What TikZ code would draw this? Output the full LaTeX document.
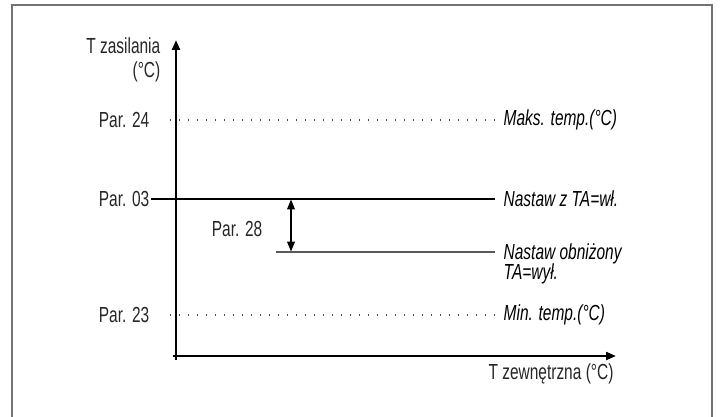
\documentclass[tikz,border=0pt]{standalone}
\usepackage{fontspec}
\setmainfont{Liberation Sans}[FakeStretch=0.71]
\usetikzlibrary{positioning, arrows.meta}

\begin{document}
\begin{tikzpicture}[x=0.025cm, y=-0.025cm, >={Triangle[length=7pt,width=5.5pt]},
    font=\fontsize{15.5}{14.5}\selectfont]
    \tikzset{
        axis/.style={line width=1.7pt},
        level/.style={line width=0.8pt},
        dotline/.style={line width=0.8pt, black!70, dash pattern=on 0.8pt off 5.6pt},
        leftlab/.style={anchor=east, inner sep=1pt, text=black!85},
        rightlab/.style={anchor=west, inner sep=1pt, font=\fontsize{15.5}{14.5}\selectfont\itshape}
    }
    \useasboundingbox (0,0) rectangle (720,416);
    % frame, its bottom edge lies below the page
    \draw[black!55, line width=1.4pt] (12,440) |- (712,5) -- (712,440);
    % axes
    \coordinate (O) at (176,356);
    \coordinate (ytip) at (176,40);
    \coordinate (xtip) at (616,356);
    \draw[axis, ->] (176,360) -- (ytip);
    \draw[axis, ->] (173,356) -- (xtip);
    \node[anchor=east, align=right, inner sep=1pt, text=black!85] (ylabel) at (162,60) {T zasilania\\[3pt](°C)};
    \node[inner sep=1pt, text=black!85] (xlabel) at (551,374) {T zewnętrzna (°C)};
    % left labels
    \node[leftlab] (par24) at (151,120) {Par. 24};
    \node[leftlab] (par03) at (151,199) {Par. 03};
    \node[leftlab] (par23) at (151,315) {Par. 23};
    % right labels
    \node[rightlab] (maks) at (502,120) {Maks. temp.(°C)};
    \node[rightlab] (nastaw) at (502,199) {Nastaw z TA=wł.};
    \node[rightlab, anchor=north west, align=left] (obnizony) at (502,242) {Nastaw obniżony\\TA=wył.};
    \node[rightlab] (mintemp) at (502,315) {Min. temp.(°C)};
    % levels
    \coordinate (d24) at (170,120);
    \coordinate (d23) at (170,315);
    \coordinate (low) at (276,252);
    \draw[dotline] (d24) -- ([xshift=-5pt]maks.west);
    \draw[dotline] (d23) -- ([xshift=-5pt]mintemp.west);
    \draw[level] (par03.east) -- ([xshift=-5pt]nastaw.west);
    \draw[level, black!65] (low) -- ([xshift=-5pt]obnizony.north west |- low);
    % offset Par. 28
    \coordinate (hi) at (291,199.5);
    \coordinate (lo) at (291,251.5);
    \draw[line width=0.9pt, <->] (hi) -- (lo);
    \node[leftlab] (par28) at (264,229) {Par. 28};
\end{tikzpicture}
\end{document}
